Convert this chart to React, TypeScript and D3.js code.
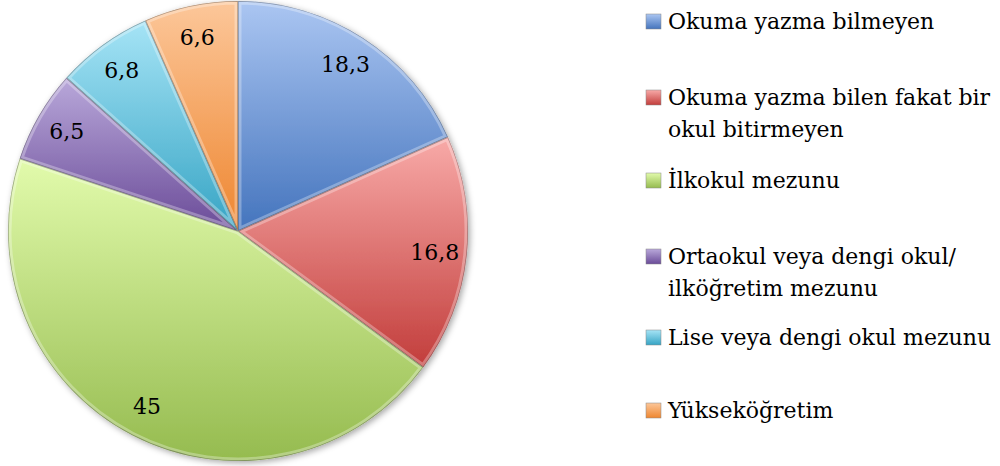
import React from "react";
import * as d3 from "d3";

const categories = [
  "Okuma yazma bilmeyen",
  "Okuma yazma bilen fakat bir okul bitirmeyen",
  "İlkokul mezunu",
  "Ortaokul veya dengi okul/ ilköğretim mezunu",
  "Lise veya dengi okul mezunu",
  "Yükseköğretim",
];
const values = [18.3, 16.8, 45, 6.5, 6.8, 6.6];
const valueLabels = ["18,3", "16,8", "45", "6,5", "6,8", "6,6"];
const legendLines = [
  ["Okuma yazma bilmeyen"],
  ["Okuma yazma bilen fakat bir", "okul bitirmeyen"],
  ["İlkokul mezunu"],
  ["Ortaokul veya dengi okul/", "ilköğretim mezunu"],
  ["Lise veya dengi okul mezunu"],
  ["Yükseköğretim"],
];
const topColors = ["#abc6f2", "#f8aaa8", "#e2fbac", "#b9a8da", "#a6e4f6", "#fcc79a"];
const bottomColors = ["#4474bd", "#c23d3b", "#95bb4f", "#6a4b98", "#36a4c4", "#ee8630"];

const W = 1000;
const H = 466;
const cx = 238;
const cy = 231;
const R = 230;
const legendX = 646;
const legendBaselines = [29, 105, 188, 264, 345, 418];
const lineH = 32;
const FONT = "'DejaVu Serif', serif";

export default function App() {
  const pie = d3.pie<number>().sort(null).value((d) => d);
  const arcs = pie(values);
  const arc = d3.arc<d3.PieArcDatum<number>>().innerRadius(0).outerRadius(R);
  const labelArc = d3
    .arc<d3.PieArcDatum<number>>()
    .innerRadius(R * 0.86)
    .outerRadius(R * 0.86);

  return (
    <svg
      width={W}
      height={H}
      style={{ position: "absolute", left: 0, top: 0, background: "#fff" }}
    >
      <defs>
        {values.map((_, i) => (
          <linearGradient key={i} id={`g${i}`} x1="0" y1="0" x2="0" y2="1">
            <stop offset="0" stopColor={topColors[i]} />
            <stop offset="1" stopColor={bottomColors[i]} />
          </linearGradient>
        ))}
        {arcs.map((a, i) => (
          <clipPath key={i} id={`c${i}`}>
            <path d={arc(a) || ""} transform={`translate(${cx},${cy})`} />
          </clipPath>
        ))}
        <filter id="shadow" x="-10%" y="-10%" width="120%" height="120%">
          <feDropShadow dx="2" dy="2" stdDeviation="3" floodColor="#000" floodOpacity="0.35" />
        </filter>
      </defs>
      <g filter="url(#shadow)">
        {arcs.map((a, i) => (
          <path
            key={i}
            d={arc(a) || ""}
            transform={`translate(${cx},${cy})`}
            fill={`url(#g${i})`}
          />
        ))}
      </g>
      {arcs.map((a, i) => (
        <g key={"b" + i} clipPath={`url(#c${i})`}>
          <path
            d={arc(a) || ""}
            transform={`translate(${cx},${cy})`}
            fill="none"
            stroke="#fff"
            strokeOpacity={0.3}
            strokeWidth={7}
            strokeLinejoin="round"
          />
          <path
            d={arc(a) || ""}
            transform={`translate(${cx},${cy})`}
            fill="none"
            stroke="#000"
            strokeOpacity={0.3}
            strokeWidth={1.5}
          />
        </g>
      ))}
      {arcs.map((a, i) => {
        const [x, y] = labelArc.centroid(a);
        return (
          <text
            key={"l" + i}
            x={cx + x}
            y={cy + y}
            textAnchor="middle"
            dominantBaseline="central"
            fontFamily={FONT}
            fontSize={22}
            fill="#000"
          >
            {valueLabels[i]}
          </text>
        );
      })}
      {categories.map((c, i) => (
        <g key={"lg" + i}>
          <rect
            x={legendX}
            y={legendBaselines[i] - 15}
            width={15}
            height={15}
            fill={`url(#g${i})`}
            stroke="#888"
            strokeWidth={0.5}
          />
          <text fontFamily={FONT} fontSize={22} fill="#000">
            {legendLines[i].map((ln, j) => (
              <tspan key={j} x={legendX + 22} y={legendBaselines[i] + j * lineH}>
                {ln}
              </tspan>
            ))}
          </text>
        </g>
      ))}
    </svg>
  );
}
